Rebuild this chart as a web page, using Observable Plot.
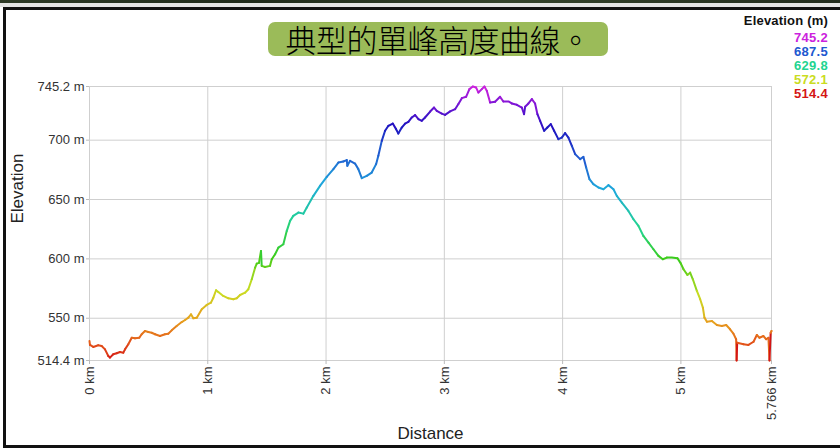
<!DOCTYPE html>
<html>
<head>
<meta charset="utf-8">
<script src="https://cdn.jsdelivr.net/npm/d3@7"></script>
<script src="https://cdn.jsdelivr.net/npm/@observablehq/plot@0.6"></script>
<style>
  body { margin: 0; background: #fff; }
  #wrap { position: relative; width: 840px; height: 448px; overflow: hidden; background: #fff;
          font-family: "Liberation Sans", Arial, sans-serif; }
  #chart { position: absolute; left: 0; top: 0; }
  #band { position: absolute; left: 0; top: 0; width: 840px; height: 3px;
          background: linear-gradient(90deg, #2d3a26, #1f2a1a 30%, #34432b 60%, #222c1d); }
  #gap { position: absolute; left: 0; top: 3px; width: 840px; height: 4px; background: #e4e4e4; }
  #frame { position: absolute; left: 3px; top: 7px; width: 840px; height: 441px;
           border-left: 3px solid #111; border-top: 3px solid #111; border-bottom: 3px solid #111;
           box-sizing: border-box; pointer-events: none; }
  #title { position: absolute; left: 268px; top: 22px; width: 340px; height: 34px;
           background: #9bbb59; border-radius: 7px; text-align: center;
           font-family: "Noto Sans CJK TC", "Noto Sans CJK SC", sans-serif; font-size: 31px;
           line-height: 34px; color: #000; font-weight: 300; letter-spacing: -0.5px; }
  #legend { position: absolute; right: 12px; top: 13px; text-align: right;
            font-family: "Liberation Sans", Arial, sans-serif; font-weight: bold; font-size: 13px; }
  #legend .head { color: #111; line-height: 16px; margin-bottom: 2px; letter-spacing: 0.2px; }
  #legend .v { line-height: 14px; letter-spacing: 0.3px; }
</style>
</head>
<body>
<div id="wrap">
  <div id="chart"></div>
  <div id="band"></div>
  <div id="gap"></div>
  <div id="frame"></div>
  <div id="title"></div>
  <div id="legend"></div>
</div>
<script>
// ---- data ----
const distanceKm = [
  0, 0.004, 0.032, 0.074, 0.103, 0.131, 0.159, 0.173, 0.201, 0.230,
  0.258, 0.286, 0.300, 0.328, 0.357, 0.385, 0.421, 0.441, 0.469, 0.497,
  0.526, 0.554, 0.596, 0.638, 0.666, 0.695, 0.737, 0.780, 0.808, 0.836,
  0.858, 0.878, 0.907, 0.949, 0.991, 1.027, 1.047, 1.070, 1.089, 1.131,
  1.174, 1.216, 1.245, 1.273, 1.315, 1.343, 1.372, 1.400, 1.414, 1.433,
  1.450, 1.456, 1.484, 1.526, 1.541, 1.569, 1.597, 1.639, 1.668, 1.696,
  1.723, 1.766, 1.808, 1.837, 1.893, 1.949, 2.006, 2.062, 2.104, 2.146,
  2.175, 2.180, 2.203, 2.245, 2.273, 2.302, 2.344, 2.386, 2.423, 2.442,
  2.471, 2.499, 2.527, 2.564, 2.592, 2.611, 2.640, 2.668, 2.696, 2.725,
  2.753, 2.781, 2.809, 2.837, 2.880, 2.913, 2.936, 2.978, 3.006, 3.049,
  3.091, 3.119, 3.148, 3.184, 3.212, 3.241, 3.268, 3.288, 3.317, 3.339,
  3.359, 3.387, 3.429, 3.471, 3.499, 3.542, 3.570, 3.613, 3.655, 3.674,
  3.683, 3.711, 3.740, 3.767, 3.787, 3.810, 3.844, 3.871, 3.900, 3.928,
  3.964, 3.993, 4.021, 4.049, 4.078, 4.106, 4.148, 4.176, 4.199, 4.227,
  4.260, 4.303, 4.345, 4.387, 4.430, 4.458, 4.501, 4.556, 4.599, 4.641,
  4.683, 4.726, 4.768, 4.810, 4.847, 4.881, 4.923, 4.971, 5.000, 5.022,
  5.055, 5.078, 5.101, 5.135, 5.163, 5.186, 5.199, 5.220, 5.262, 5.304,
  5.346, 5.383, 5.416, 5.444, 5.467, 5.471, 5.476, 5.529, 5.571, 5.614,
  5.642, 5.664, 5.698, 5.721, 5.740, 5.749, 5.759, 5.766
];
const elevationM = [
  530.8, 527.5, 525.8, 527.2, 526.6, 523.8, 518.2, 516.8, 519.6, 520.5,
  521.6, 521.0, 523.8, 528.1, 533.6, 533.1, 533.6, 536.5, 539.3, 538.4,
  537.8, 536.5, 535.0, 536.5, 537.0, 539.8, 543.5, 546.8, 548.5, 550.5,
  553.3, 550.0, 550.5, 557.6, 561.2, 563.1, 567.3, 573.6, 572.1, 568.8,
  566.8, 566.0, 566.8, 569.6, 571.5, 574.4, 582.8, 592.6, 596.0, 596.6,
  606.7, 594.1, 593.2, 594.1, 599.7, 603.9, 609.5, 612.3, 623.6, 632.0,
  636.2, 639.0, 638.1, 643.2, 653.1, 661.5, 669.1, 675.6, 681.1, 682.0,
  683.2, 678.4, 682.6, 680.3, 675.6, 668.0, 669.9, 672.7, 679.8, 686.8,
  699.4, 707.9, 712.1, 714.0, 709.3, 705.6, 710.6, 714.0, 715.4, 719.1,
  721.1, 717.7, 716.3, 719.1, 724.1, 727.5, 724.7, 722.4, 721.3, 724.3,
  726.1, 730.4, 735.4, 736.5, 743.0, 745.2, 744.4, 740.1, 743.0, 745.2,
  741.6, 731.7, 732.3, 736.5, 732.6, 732.6, 730.9, 729.8, 727.5, 721.9,
  728.1, 730.9, 734.6, 730.9, 721.9, 716.3, 707.9, 710.6, 713.5, 707.9,
  700.9, 702.2, 705.9, 702.2, 695.2, 688.2, 684.0, 685.9, 676.9, 667.1,
  662.9, 660.1, 658.7, 662.1, 658.7, 653.1, 647.4, 640.4, 633.4, 627.8,
  619.3, 613.7, 608.1, 602.5, 599.7, 601.1, 601.1, 600.5, 596.0, 591.3,
  586.5, 588.4, 582.8, 573.0, 566.0, 558.9, 550.5, 547.1, 547.7, 544.3,
  543.5, 544.3, 540.7, 537.0, 532.3, 514.4, 529.4, 528.1, 527.5, 530.2,
  535.9, 533.6, 535.0, 532.3, 533.6, 514.4, 537.8, 539.3
];
const xTicks = [0, 1, 2, 3, 4, 5, 5.766];
const yTicks = [514.4, 550, 600, 650, 700, 745.2];
const legendValues = [745.2, 687.5, 629.8, 572.1, 514.4];
const titleText = "典型的單峰高度曲線。";
const xLabel = "Distance";
const yLabel = "Elevation";
const legendTitle = "Elevation (m)";

// ---- build ----
const data = distanceKm.map((d, i) => ({km: d, elev: elevationM[i]}));

const colorDomain = [514.4, 530, 548, 572.1, 600, 629.8, 660, 687.5, 712, 730, 745.2];
const colorRange = ["#d41515", "#e45a1a", "#e6a21e", "#cadc22", "#3ccc18", "#22d490",
                    "#1ea8dc", "#2058d0", "#1e12c0", "#7a14d6", "#cc22dd"];
const colorScale = d3.scaleLinear().domain(colorDomain).range(colorRange).clamp(true);

const chart = Plot.plot({
  width: 840,
  height: 448,
  marginLeft: 89,
  marginRight: 69,
  marginTop: 86,
  marginBottom: 88,
  style: {background: "transparent", fontFamily: "Liberation Sans, Arial, sans-serif"},
  x: {domain: [0, 5.766]},
  y: {domain: [514.4, 745.2]},
  color: {type: "linear", domain: colorDomain, range: colorRange, clamp: true},
  marks: [
    Plot.gridX(xTicks, {stroke: "#cfcfcf", strokeOpacity: 1, strokeWidth: 1}),
    Plot.gridY(yTicks, {stroke: "#cfcfcf", strokeOpacity: 1, strokeWidth: 1}),
    Plot.axisX(xTicks, {tickRotate: -90, tickFormat: d => `${d} km`, tickSize: 4, tickPadding: 2,
      fontSize: 13, fill: "#333", stroke: "#bbb", label: null}),
    Plot.axisY(yTicks, {tickFormat: d => `${d} m`, tickSize: 3, tickPadding: 2,
      fontSize: 13, fill: "#333", stroke: "#bbb", label: null}),
    Plot.text([yLabel], {frameAnchor: "left", dx: -72, rotate: -90, fontSize: 17, fill: "#222"}),
    Plot.text([xLabel], {frameAnchor: "bottom", dy: 78, fontSize: 17, fill: "#222"}),
    Plot.line(data, {x: "km", y: "elev", stroke: "elev", z: null, strokeWidth: 2})
  ]
});
document.getElementById("chart").appendChild(chart);

document.getElementById("title").textContent = titleText;
const legend = document.getElementById("legend");
const head = document.createElement("div");
head.className = "head";
head.textContent = legendTitle;
legend.appendChild(head);
for (const v of legendValues) {
  const el = document.createElement("div");
  el.className = "v";
  el.style.color = colorScale(v);
  el.textContent = v.toFixed(1);
  legend.appendChild(el);
}
</script>
</body>
</html>
